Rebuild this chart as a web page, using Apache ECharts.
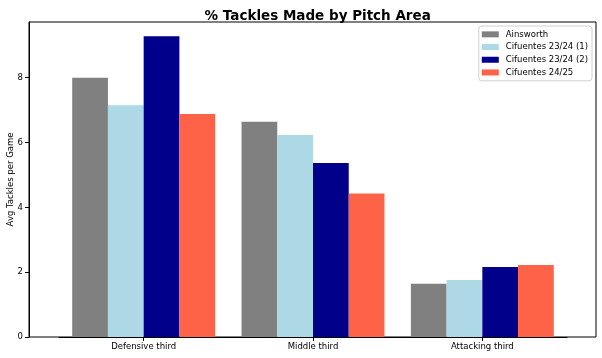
<!DOCTYPE html>
<html><head><meta charset="utf-8">
<script src="https://cdn.jsdelivr.net/npm/echarts@6/dist/echarts.min.js"></script>
<style>html,body{margin:0;padding:0;background:#fff}#c{width:602px;height:358px}</style>
</head><body><div id="c"></div>
<script>
const categories = ['Defensive third', 'Middle third', 'Attacking third'];
const seriesNames = ['Ainsworth', 'Cifuentes 23/24 (1)', 'Cifuentes 23/24 (2)', 'Cifuentes 24/25'];
const ainsworth = [8.00, 6.64, 1.64];
const cif2324a = [7.15, 6.23, 1.76];
const cif2324b = [9.28, 5.37, 2.16];
const cif2425 = [6.88, 4.43, 2.22];
const yTicks = [0, 2, 4, 6, 8];

const colors = ['#808080', '#add8e6', '#00008b', '#ff6347'];
const values = [ainsworth, cif2324a, cif2324b, cif2425];
const font = 'DejaVu Sans';
const yMax = 9.72;

const chart = echarts.init(document.getElementById('c'), null, {renderer: 'canvas'});
chart.setOption({
  animation: false,
  backgroundColor: '#fff',
  textStyle: {fontFamily: font},
  title: {
    text: '% Tackles Made by Pitch Area',
    left: 312.7, top: 4, textAlign: 'center',
    textStyle: {fontFamily: font, fontWeight: 'bold', fontSize: 13.5, color: '#000'}
  },
  legend: {
    orient: 'vertical', right: 10, top: 26,
    data: seriesNames,
    itemWidth: 17, itemHeight: 6, itemGap: 2,
    icon: 'rect',
    padding: [3, 4, 3, 3],
    borderColor: '#d0d0d0', borderWidth: 1, borderRadius: 3,
    backgroundColor: 'rgba(255,255,255,0.8)',
    textStyle: {fontFamily: font, fontSize: 8.5, color: '#000', lineHeight: 10.7, padding: [0,0,0,2]}
  },
  grid: [
    {left: 29, right: 6, top: 22, bottom: 21, show: true, borderColor: '#000', borderWidth: 1, backgroundColor: 'transparent', containLabel: false, outerBoundsMode: 'none'},
    {left: 59, right: 35, top: 22, bottom: 21, containLabel: false, outerBoundsMode: 'none'}
  ],
  xAxis: [
    {gridIndex: 0, type: 'value', min: 0, max: 1, show: false},
    {gridIndex: 1, type: 'category', data: categories,
     axisLine: {show: true, lineStyle: {color: '#000', width: 1}},
     axisTick: {show: true, alignWithLabel: true, length: 4, lineStyle: {color: '#000'}},
     axisLabel: {fontFamily: font, fontSize: 8.5, color: '#000', margin: 5}}
  ],
  yAxis: [
    {gridIndex: 0, type: 'value', min: 0, max: yMax, interval: 2,
     name: 'Avg Tackles per Game', nameLocation: 'middle', nameGap: 14, nameMoveOverlap: false,
     nameTextStyle: {fontFamily: font, fontSize: 8.5, color: '#000'},
     splitLine: {show: false},
     axisLine: {show: true, lineStyle: {color: '#000', width: 1}},
     axisTick: {show: true, length: 4, lineStyle: {color: '#000'}},
     axisLabel: {fontFamily: font, fontSize: 8.5, color: '#000', margin: 6, showMaxLabel: false,
       formatter: v => (yTicks.indexOf(v) >= 0 ? String(v) : '')}},
    {gridIndex: 1, type: 'value', min: 0, max: yMax, show: false, splitLine: {show: false}}
  ],
  series: seriesNames.map((n, i) => ({
    name: n, type: 'bar', xAxisIndex: 1, yAxisIndex: 1,
    data: values[i],
    barGap: '0%', barCategoryGap: '15.6%',
    itemStyle: {color: colors[i]}
  }))
});
</script></body></html>
